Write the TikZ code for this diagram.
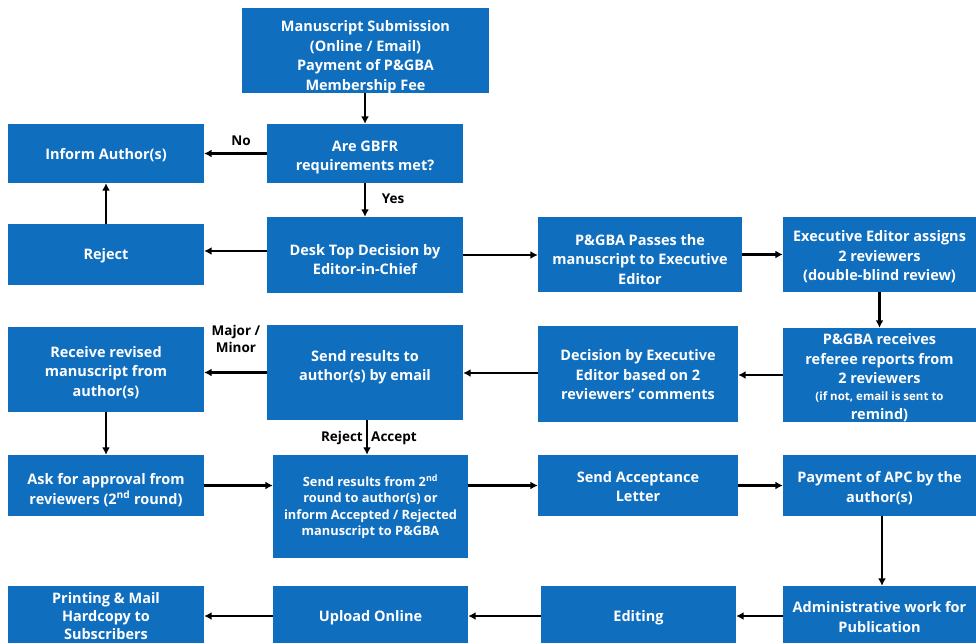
\documentclass[tikz,border=0pt]{standalone}
\usepackage{fontspec}
\setmainfont{Open Sans}
\usetikzlibrary{arrows.meta}
\definecolor{boxblue}{RGB}{16,110,190}
\tikzset{
  boxshape/.style={rectangle, fill=boxblue, inner sep=0pt},
  boxtext/.style={text=white, font=\fontsize{14.5}{19.5}\selectfont\bfseries, align=center, inner sep=0pt},
  small/.style={font=\fontsize{12.8}{16.5}\selectfont\bfseries},
  tight/.style={font=\fontsize{14.5}{18}\selectfont\bfseries},
  arr/.style={-{Latex[length=7.5pt,width=8pt]}, line width=2.7pt},
  lbl/.style={font=\fontsize{13.5}{16.5}\selectfont\bfseries, text=black, inner sep=1pt}}
% \bx[text options]{name}{x,y}{width}{height}{yshift of text}{text}
\newcommand{\bx}[7][]{%
  \node[boxshape, minimum width=#4pt, minimum height=#5pt] (#2) at (#3) {};
  \node[boxtext, #1] (#2-t) at ([yshift=#6pt]#2.center) {#7};}
\begin{document}
\begin{tikzpicture}[x=1pt,y=-1pt]
\useasboundingbox (0,0) rectangle (976,643);

\bx{sub}{365.5,50.5}{247}{85}{-6.5}{Manuscript Submission\\(Online / Email)\\Payment of P\&GBA\\Membership Fee}
\bx{gbfr}{365,153.5}{196}{59}{-4}{Are GBFR\\requirements met?}
\bx{inform}{106,153.5}{196}{59}{-2}{Inform Author(s)}
\bx{reject}{106,254.5}{196}{61}{-1}{Reject}
\bx{desk}{365,255}{196}{76}{-4.5}{Desk Top Decision by\\Editor-in-Chief}
\bx{pass}{640,254.5}{204}{75}{-5}{P\&GBA Passes the\\manuscript to Executive\\Editor}
\bx{assign}{879.5,254.5}{193}{75}{-2.5}{Executive Editor assigns\\2 reviewers\\(double-blind review)}
\bx{receives}{879.5,375}{193}{94}{-3}{P\&GBA receives\\referee reports from\\2 reviewers\\[-3pt]\fontsize{11.5}{15}\selectfont (if not, email is sent to\\remind)}
\bx{decision}{638,374}{200}{96}{-1}{Decision by Executive\\Editor based on 2\\reviewers' comments}
\bx{sendres}{365,372.5}{196}{95}{5.5}{Send results to\\author(s) by email}
\bx{revised}{106,369.5}{196}{85}{-3}{Receive revised\\manuscript from\\author(s)}
\bx{ask}{106,485.5}{196}{61}{-4.5}{Ask for approval from\\reviewers (2\textsuperscript{nd} round)}
\bx[small]{second}{370.5,506.5}{195}{103}{-0.5}{Send results from 2\textsuperscript{nd}\\round to author(s) or\\inform Accepted / Rejected\\manuscript to P\&GBA}
\bx{accept}{638,485.5}{200}{61}{-1}{Send Acceptance\\Letter}
\bx{apc}{879.5,485.5}{193}{61}{-2.5}{Payment of APC by the\\author(s)}
\bx{admin}{879.5,614.5}{193}{57}{-2.5}{Administrative work for\\Publication}
\bx{editing}{638.5,614.5}{195}{57}{-3}{Editing}
\bx{upload}{370.5,614.5}{195}{57}{-3}{Upload Online}
\bx[tight]{print}{106,614.5}{196}{57}{-2}{Printing \& Mail\\Hardcopy to\\Subscribers}

% arrows
\draw[arr] (sub.south -| gbfr.north) -- (gbfr.north);
\draw[arr] (gbfr.west) -- (gbfr.west -| inform.east);
\draw[arr] (gbfr.south) -- (desk.north);
\draw[arr] ([yshift=4pt]desk.west) -- ([yshift=4pt]desk.west -| reject.east);
\draw[arr] (reject.north) -- (inform.south);
\draw[arr] (desk.east) -- (desk.east -| pass.west);
\draw[arr] (pass.east) -- (pass.east -| assign.west);
\draw[arr] (assign.south) -- (receives.north);
\draw[arr] (receives.west) -- (receives.west -| decision.east);
\draw[arr] ([yshift=1pt]decision.west) -- ([yshift=1pt]decision.west -| sendres.east);
\draw[arr] (sendres.west) -- (sendres.west -| revised.east);
\draw[arr] ([xshift=2pt]sendres.south) -- ([xshift=2pt]sendres.south |- second.north);
\draw[arr] (revised.south) -- (ask.north);
\draw[arr] (ask.east) -- (ask.east -| second.west);
\draw[arr] ([yshift=21pt]second.east) -- ([yshift=21pt]second.east -| accept.west);
\draw[arr] (accept.east) -- (accept.east -| apc.west);
\draw[arr] ([xshift=2.5pt]apc.south) -- ([xshift=2.5pt]admin.north);
\draw[arr] ([yshift=-1.5pt]admin.west) -- ([yshift=-1.5pt]admin.west -| editing.east);
\draw[arr] ([yshift=-1.5pt]editing.west) -- ([yshift=-1.5pt]editing.west -| upload.east);
\draw[arr] ([yshift=-1.5pt]upload.west) -- ([yshift=-1.5pt]upload.west -| print.east);

% labels
\node[lbl] (no) at (241,141) {No};
\node[lbl] (yes) at (393,199) {Yes};
\node[lbl, align=center] (mm) at (236,339) {Major /\\Minor};
\node[lbl, anchor=east] (rej) at (364,438) {Reject};
\node[lbl, anchor=west] (acc) at (370,438) {Accept};
\end{tikzpicture}
\end{document}
